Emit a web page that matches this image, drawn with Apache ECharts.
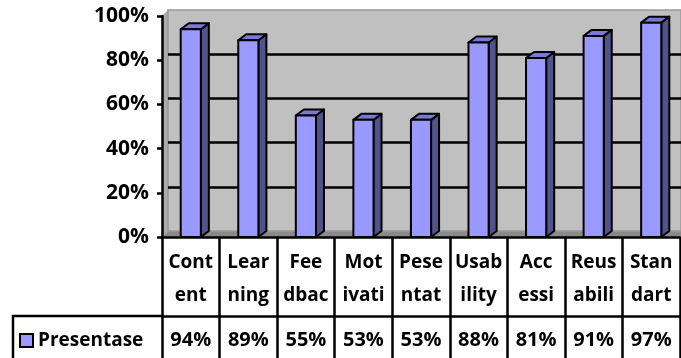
<!DOCTYPE html>
<html>
<head>
<meta charset="utf-8">
<script src="https://cdn.jsdelivr.net/npm/echarts@6/dist/echarts.min.js"></script>
<style>
  html, body { margin: 0; padding: 0; background: #fff; }
  #chart { width: 681px; height: 358px; }
</style>
</head>
<body>
<div id="chart"></div>
<script>
// values
const categories = ["Cont\nent", "Lear\nning", "Fee\ndbac", "Mot\nivati", "Pese\nntat", "Usab\nility", "Acc\nessi", "Reus\nabili", "Stan\ndart"];
const seriesName = "Presentase";
const values = [94, 89, 55, 53, 53, 88, 81, 91, 97];
const yTicks = [0, 20, 40, 60, 80, 100];

// layout (px)
const W = 681, H = 358;
const plotLeft = 162, plotTop = 16, plotBottom = 237, plotRight = 1;
const depthX = 6, depthY = 6;   // wall depth
const barDX = 8, barDY = 6;     // bar depth
const rowLine = 316;            // top of the value row
const FONT = "Open Sans";
const FS = 19;

const chart = echarts.init(document.getElementById("chart"), null, { renderer: "canvas" });

// 3D-looking column drawn through the axis scales
function renderBar(params, api) {
  const idx = api.value(0);
  const val = api.value(1);
  const top = api.coord([idx, val]);
  const base = api.coord([idx, 0]);
  const bw = api.size([1, 0])[0] * 0.35;
  const l = top[0] - bw / 2, r = top[0] + bw / 2;
  const stroke = { stroke: "#000", lineWidth: 2, lineJoin: "round" };
  return {
    type: "group",
    children: [
      { type: "polygon", shape: { points: [[r, top[1]], [r + barDX, top[1] - barDY], [r + barDX, base[1] - barDY], [r, base[1]]] },
        style: Object.assign({ fill: "#52528c" }, stroke) },
      { type: "polygon", shape: { points: [[l, top[1]], [l + barDX, top[1] - barDY], [r + barDX, top[1] - barDY], [r, top[1]]] },
        style: Object.assign({ fill: "#7a7ad4" }, stroke) },
      { type: "rect", shape: { x: l, y: top[1], width: bw, height: base[1] - top[1] },
        style: Object.assign({ fill: "#9999ff" }, stroke) }
    ]
  };
}

const option = {
  animation: false,
  textStyle: { fontFamily: FONT },
  grid: [
    { left: plotLeft, top: plotTop, right: plotRight, bottom: H - plotBottom, containLabel: false },
    { left: plotLeft + depthX, top: plotTop - depthY, right: 0, bottom: H - plotBottom + depthY,
      show: true, backgroundColor: "#c0c0c0", borderColor: "#999", borderWidth: 1.5 }
  ],
  graphic: [
    // side wall
    { type: "polygon", z: -1, silent: true,
      shape: { points: [[plotLeft, plotBottom], [plotLeft, plotTop], [plotLeft + depthX, plotTop - depthY], [plotLeft + depthX, plotBottom - depthY]] },
      style: { fill: "#ababab" } },
    // floor
    { type: "polygon", z: -1, silent: true,
      shape: { points: [[plotLeft, plotBottom], [plotLeft + depthX, plotBottom - depthY], [W, plotBottom - depthY], [W, plotBottom]] },
      style: { fill: "#8a8a8a" } },
    // legend cell border of the data table
    { type: "polyline", z: 10, silent: true,
      shape: { points: [[13, H + 2], [13, rowLine], [plotLeft, rowLine]] },
      style: { stroke: "#000", lineWidth: 2.5, fill: null } }
  ],
  legend: {
    data: [seriesName],
    left: 19, top: 331, padding: 0,
    itemWidth: 13, itemHeight: 13, itemGap: 6,
    icon: "rect",
    itemStyle: { color: "#9999ff", borderColor: "#000", borderWidth: 2 },
    textStyle: { fontFamily: FONT, fontWeight: "bold", fontSize: FS, color: "#000" }
  },
  xAxis: [
    {
      gridIndex: 0, type: "category", data: categories,
      axisLine: { lineStyle: { color: "#000", width: 2.5 } },
      axisTick: { show: true, interval: 0, length: H - plotBottom + 4, lineStyle: { color: "#000", width: 2.5 } },
      axisLabel: { interval: 0, margin: 9, fontFamily: FONT, fontWeight: "bold", fontSize: FS, lineHeight: 33, color: "#000" },
      splitLine: { show: false }
    },
    {
      gridIndex: 0, type: "category", position: "bottom", offset: rowLine - plotBottom,
      data: values.map(v => v + "%"),
      axisLine: { lineStyle: { color: "#000", width: 2.5 } },
      axisTick: { show: false },
      axisLabel: { interval: 0, margin: 13, fontFamily: FONT, fontWeight: "bold", fontSize: 20, lineHeight: 22, color: "#000" }
    },
    { gridIndex: 1, type: "category", data: categories, show: false }
  ],
  yAxis: [
    {
      gridIndex: 0, type: "value", min: yTicks[0], max: yTicks[yTicks.length - 1], interval: 20,
      axisLine: { show: true, lineStyle: { color: "#000", width: 2.5 } },
      axisTick: { show: true, length: 5, lineStyle: { color: "#000", width: 2.5 } },
      axisLabel: { formatter: "{value}%", margin: 13, fontFamily: FONT, fontWeight: "bold", fontSize: 21, color: "#000" },
      splitLine: { show: false }
    },
    {
      gridIndex: 1, type: "value", min: yTicks[0], max: yTicks[yTicks.length - 1], interval: 20,
      axisLine: { show: false }, axisTick: { show: false }, axisLabel: { show: false },
      splitLine: { show: true, lineStyle: { width: 2.5, color: ["rgba(0,0,0,0)", "#000", "#000", "#000", "#000", "rgba(0,0,0,0)"] } }
    }
  ],
  series: [
    {
      name: seriesName, type: "custom", xAxisIndex: 0, yAxisIndex: 0, z: 5,
      itemStyle: { color: "#9999ff" },
      renderItem: renderBar,
      data: values.map((v, i) => [i, v])
    }
  ]
};

chart.setOption(option);
</script>
</body>
</html>
